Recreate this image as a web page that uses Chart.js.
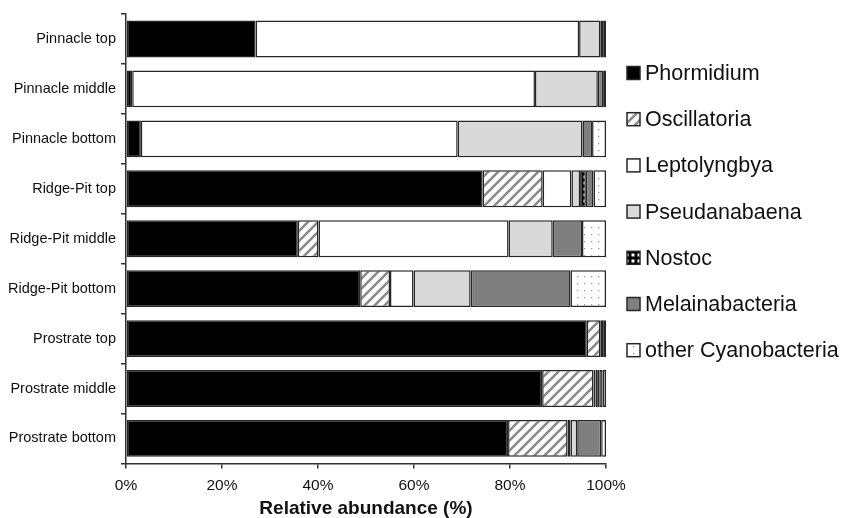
<!DOCTYPE html>
<html>
<head>
<meta charset="utf-8">
<script src="https://cdn.jsdelivr.net/npm/chart.js@4"></script>
<style>
  html, body { margin: 0; padding: 0; background: #fff; }
  #wrap { width: 841px; height: 518px; }
</style>
</head>
<body>
<div id="wrap"><canvas id="chart" width="841" height="518"></canvas></div>
<script>
// sites, top to bottom
const sites = ['Pinnacle top', 'Pinnacle middle', 'Pinnacle bottom', 'Ridge-Pit top', 'Ridge-Pit middle',
               'Ridge-Pit bottom', 'Prostrate top', 'Prostrate middle', 'Prostrate bottom'];

// relative abundance (%) per taxon
const phormidium      = [27.0, 1.3, 3.1, 74.3, 35.8, 48.8, 96.0, 86.7, 79.6];
const oscillatoria    = [0.0, 0.0, 0.0, 12.5, 4.3, 6.2, 2.8, 10.7, 12.4];
const leptolyngbya    = [67.4, 83.9, 66.0, 6.0, 39.6, 4.9, 0.0, 0.4, 0.6];
const pseudanabaena   = [4.4, 13.1, 26.0, 1.8, 9.2, 11.9, 0.0, 0.5, 1.4];
const nostoc          = [0.0, 0.0, 0.0, 1.2, 0.0, 0.0, 0.0, 0.3, 0.0];
const melainabacteria = [0.6, 1.1, 2.0, 1.6, 6.1, 20.8, 0.6, 0.7, 5.0];
const otherCyano      = [0.6, 0.6, 2.9, 2.6, 5.0, 7.4, 0.6, 0.7, 1.0];

const taxa = ['Phormidium', 'Oscillatoria', 'Leptolyngbya', 'Pseudanabaena', 'Nostoc', 'Melainabacteria', 'other Cyanobacteria'];
const xTicks = [0, 20, 40, 60, 80, 100];

function tile(size, draw) {
    const c = document.createElement('canvas');
    c.width = size; c.height = size;
    draw(c.getContext('2d'), size);
    return document.createElement('canvas').getContext('2d').createPattern(c, 'repeat');
}

const hatch = tile(10, (g, s) => {
    g.fillStyle = '#fff'; g.fillRect(0, 0, s, s);
    g.strokeStyle = '#8a8a8a'; g.lineWidth = 2.6;
    g.beginPath();
    g.moveTo(-2, s + 2); g.lineTo(s + 2, -2);
    g.moveTo(-2, 2); g.lineTo(2, -2);
    g.moveTo(s - 2, s + 2); g.lineTo(s + 2, s - 2);
    g.stroke();
});
const dots = tile(7, (g, s) => {
    g.fillStyle = '#fff'; g.fillRect(0, 0, s, s);
    g.fillStyle = '#9a9a9a'; g.fillRect(3, 3, 1.3, 1.3);
});
const squares = tile(6, (g, s) => {
    g.fillStyle = '#000'; g.fillRect(0, 0, s, s);
    g.fillStyle = '#fff'; g.fillRect(1.5, 1.5, 3, 3);
});

const fills = ['#000000', hatch, '#ffffff', '#d9d9d9', squares, '#7f7f7f', dots];
const series = [phormidium, oscillatoria, leptolyngbya, pseudanabaena, nostoc, melainabacteria, otherCyano];

const datasets = taxa.map((name, i) => ({
    label: name,
    data: series[i],
    backgroundColor: fills[i],
    borderColor: '#262626',
    borderWidth: 1.5,
    borderSkipped: false,
    barPercentage: 0.82,
    categoryPercentage: 0.9
}));

const font = 'Liberation Sans, Arial, sans-serif';

// legend drawn beside the plot, one row per dataset
const sideLegend = {
    id: 'sideLegend',
    afterDraw(chart) {
        const ctx = chart.ctx;
        const x0 = chart.chartArea.right + 21;
        const y0 = 73, step = 46.2;
        ctx.save();
        ctx.font = '21.5px ' + font;
        ctx.textBaseline = 'middle';
        chart.data.datasets.forEach((ds, i) => {
            const y = y0 + i * step;
            ctx.fillStyle = ds.backgroundColor;
            ctx.fillRect(x0, y - 6.5, 13, 13);
            ctx.strokeStyle = '#262626';
            ctx.lineWidth = 1.5;
            ctx.strokeRect(x0, y - 6.5, 13, 13);
            ctx.fillStyle = '#111';
            ctx.fillText(ds.label, x0 + 18, y + 1);
        });
        ctx.restore();
    }
};

new Chart(document.getElementById('chart'), {
    type: 'bar',
    data: { labels: sites, datasets: datasets },
    options: {
        indexAxis: 'y',
        responsive: false,
        animation: false,
        layout: { padding: { left: 3, top: 14, right: 235, bottom: 0 } },
        scales: {
            x: {
                stacked: true, min: 0, max: 100,
                afterBuildTicks: (s) => { s.ticks = xTicks.map(v => ({ value: v })); },
                ticks: { callback: v => v + '%', color: '#111', font: { family: font, size: 15.5 }, padding: 8 },
                grid: { drawOnChartArea: false, tickLength: 5, color: '#333', lineWidth: 1.5 },
                border: { color: '#333', width: 1.5 },
                title: { display: true, text: 'Relative abundance (%)', color: '#111', font: { family: font, size: 19, weight: 'bold', lineHeight: 1 }, padding: { top: -4, bottom: 0 } }
            },
            y: {
                stacked: true,
                ticks: { color: '#111', font: { family: font, size: 14.5 }, padding: 5 },
                grid: { drawOnChartArea: false, tickLength: 5, color: '#333', lineWidth: 1.5, offset: true },
                border: { color: '#333', width: 1.5 }
            }
        },
        plugins: {
            legend: { display: false },
            tooltip: { enabled: false }
        }
    },
    plugins: [sideLegend]
});
</script>
</body>
</html>
